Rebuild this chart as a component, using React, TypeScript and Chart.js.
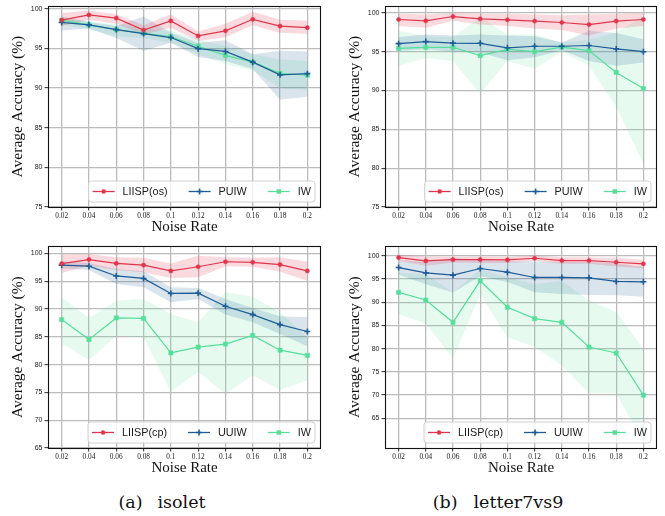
import React, { useEffect, useRef } from 'react';
import { Chart, registerables } from 'chart.js';

Chart.register(...registerables);

// ---------------- DATA ----------------
const noiseRates = ['0.02', '0.04', '0.06', '0.08', '0.1', '0.12', '0.14', '0.16', '0.18', '0.2'];

const topYTicks = [75, 80, 85, 90, 95, 100];
const bottomYTicks = [65, 70, 75, 80, 85, 90, 95, 100];

// (a) isolet, top: LIISP(os) / PUIW / IW
const isoletOsLiisp = [98.55, 99.2, 98.8, 97.3, 98.45, 96.55, 97.2, 98.65, 97.8, 97.6];
const isoletOsLiispHi = [99.45, 99.75, 99.3, 97.9, 99.3, 97.1, 98.1, 99.6, 98.6, 98.5];
const isoletOsLiispLo = [97.8, 98.6, 98.1, 96.75, 97.6, 95.9, 96.4, 97.9, 96.95, 96.8];
const isoletOsPuiw = [98.25, 97.95, 97.35, 96.85, 96.35, 94.95, 94.6, 93.25, 91.65, 91.8];
const isoletOsPuiwHi = [99.0, 98.3, 97.8, 99.0, 97.0, 95.7, 96.0, 94.25, 94.7, 94.6];
const isoletOsPuiwLo = [97.25, 97.5, 96.3, 94.7, 95.7, 93.9, 93.4, 92.4, 88.5, 88.9];
const isoletOsIw = [98.55, 97.95, 97.35, 96.9, 96.45, 95.25, 94.1, 93.25, 91.85, 91.6];
const isoletOsIwHi = [98.8, 98.4, 98.0, 97.5, 97.2, 96.1, 95.3, 94.25, 93.6, 93.4];
const isoletOsIwLo = [98.0, 97.4, 96.5, 96.25, 95.7, 94.25, 93.0, 92.2, 90.0, 89.75];

// (b) letter7vs9, top: LIISP(os) / PUIW / IW
const letterOsLiisp = [99.15, 98.98, 99.53, 99.23, 99.1, 98.94, 98.76, 98.5, 98.94, 99.15];
const letterOsLiispHi = [99.9, 99.8, 100.0, 99.9, 99.9, 99.8, 99.7, 99.8, 99.9, 100.0];
const letterOsLiispLo = [98.3, 98.1, 99.0, 98.5, 98.3, 98.0, 97.8, 97.1, 98.0, 98.3];
const letterOsPuiw = [96.04, 96.3, 96.1, 96.08, 95.5, 95.7, 95.7, 95.8, 95.36, 95.0];
const letterOsPuiwHi = [96.9, 97.2, 97.1, 97.2, 97.1, 97.0, 96.2, 97.7, 97.4, 96.6];
const letterOsPuiwLo = [95.1, 95.3, 95.0, 94.9, 93.9, 94.3, 95.2, 93.8, 93.2, 93.6];
const letterOsIw = [95.44, 95.57, 95.57, 94.5, 95.3, 95.0, 95.6, 95.14, 92.33, 90.25];
const letterOsIwHi = [97.7, 97.0, 96.9, 99.4, 97.2, 97.2, 96.2, 96.5, 97.5, 99.6];
const letterOsIwLo = [93.2, 94.2, 93.8, 89.6, 93.8, 92.8, 95.0, 93.2, 87.9, 80.6];

// (a) isolet, bottom: LIISP(cp) / UUIW / IW
const isoletCpLiisp = [98.15, 98.9, 98.2, 97.9, 96.85, 97.6, 98.5, 98.4, 98.0, 96.85];
const isoletCpLiispHi = [99.8, 99.9, 99.3, 99.2, 98.2, 99.6, 99.3, 99.2, 99.3, 98.5];
const isoletCpLiispLo = [96.5, 97.8, 97.0, 96.6, 95.6, 95.7, 97.7, 97.6, 96.7, 95.1];
const isoletCpUuiw = [97.9, 97.7, 95.95, 95.5, 92.8, 92.86, 90.5, 89.0, 87.2, 85.95];
const isoletCpUuiwHi = [98.6, 98.3, 97.2, 96.8, 93.9, 93.8, 91.8, 90.2, 88.7, 88.5];
const isoletCpUuiwLo = [97.3, 97.0, 94.5, 93.9, 91.2, 91.8, 89.0, 87.6, 85.5, 83.3];
const isoletCpIw = [88.1, 84.5, 88.4, 88.33, 82.1, 83.15, 83.7, 85.24, 82.6, 81.65];
const isoletCpIwHi = [92.1, 88.4, 91.5, 91.8, 89.1, 87.6, 93.0, 92.2, 89.4, 84.9];
const isoletCpIwLo = [83.75, 80.8, 85.2, 84.9, 75.1, 78.7, 74.7, 78.1, 75.5, 77.2];

// (b) letter7vs9, bottom: LIISP(cp) / UUIW / IW
const letterCpLiisp = [99.64, 98.93, 99.2, 99.2, 99.14, 99.5, 99.0, 99.0, 98.64, 98.29];
const letterCpLiispHi = [100.3, 99.9, 99.8, 99.9, 99.8, 100.1, 99.7, 99.7, 99.6, 99.2];
const letterCpLiispLo = [98.9, 97.9, 98.6, 98.5, 98.5, 98.9, 98.3, 98.3, 97.7, 97.3];
const letterCpUuiw = [97.5, 96.36, 95.86, 97.29, 96.5, 95.36, 95.36, 95.29, 94.5, 94.43];
const letterCpUuiwHi = [99.1, 98.8, 99.6, 99.2, 98.9, 98.8, 98.7, 98.7, 98.4, 97.6];
const letterCpUuiwLo = [96.0, 93.9, 92.1, 95.6, 94.4, 92.2, 91.8, 91.6, 91.5, 91.2];
const letterCpIw = [92.14, 90.5, 85.7, 94.64, 88.93, 86.5, 85.7, 80.36, 79.07, 70.0];
const letterCpIwHi = [96.3, 96.1, 92.1, 97.1, 95.4, 93.9, 94.6, 90.4, 87.9, 80.0];
const letterCpIwLo = [87.5, 85.4, 77.9, 91.8, 82.5, 80.4, 76.4, 70.4, 70.4, 59.6];

// ---------------- STYLE ----------------
const RED = '#E3344B';
const BLUE = '#1E5C96';
const GREEN = '#55E09A';
const RED_BAND = 'rgba(227,52,75,0.18)';
const BLUE_BAND = 'rgba(30,92,150,0.17)';
const GREEN_BAND = 'rgba(85,224,154,0.15)';
const GRID = '#bcbcbc';

type Series = {
  label: string;
  color: string;
  band: string;
  marker: 'circle' | 'cross' | 'rect';
  mean: number[];
  hi: number[];
  lo: number[];
};

type PanelCfg = {
  left: number;
  top: number;
  width: number;
  height: number;
  yAxisW: number;
  padRight: number;
  padTop: number;
  xAxisH: number;
  yMin: number;
  yMax: number;
  yTicks: number[];
  yTitlePad: number;
  series: Series[];
};

const mk = (label: string, color: string, band: string, marker: Series['marker'], mean: number[], hi: number[], lo: number[]): Series => ({
  label, color, band, marker, mean, hi, lo,
});

const panels: PanelCfg[] = [
  {
    left: 0, top: 0, width: 330, height: 240, yAxisW: 48, padRight: 9, padTop: 5, xAxisH: 33,
    yMin: 75, yMax: 100.3, yTicks: topYTicks, yTitlePad: 8.7,
    series: [
      mk('LIISP(os)', RED, RED_BAND, 'circle', isoletOsLiisp, isoletOsLiispHi, isoletOsLiispLo),
      mk('PUIW', BLUE, BLUE_BAND, 'cross', isoletOsPuiw, isoletOsPuiwHi, isoletOsPuiwLo),
      mk('IW', GREEN, GREEN_BAND, 'rect', isoletOsIw, isoletOsIwHi, isoletOsIwLo),
    ],
  },
  {
    left: 330, top: 0, width: 335, height: 240, yAxisW: 55, padRight: 8, padTop: 5, xAxisH: 33,
    yMin: 75, yMax: 100.86, yTicks: topYTicks, yTitlePad: 15.7,
    series: [
      mk('LIISP(os)', RED, RED_BAND, 'circle', letterOsLiisp, letterOsLiispHi, letterOsLiispLo),
      mk('PUIW', BLUE, BLUE_BAND, 'cross', letterOsPuiw, letterOsPuiwHi, letterOsPuiwLo),
      mk('IW', GREEN, GREEN_BAND, 'rect', letterOsIw, letterOsIwHi, letterOsIwLo),
    ],
  },
  {
    left: 0, top: 240, width: 330, height: 241, yAxisW: 48, padRight: 9, padTop: 5, xAxisH: 33,
    yMin: 65, yMax: 101.3, yTicks: bottomYTicks, yTitlePad: 8.7,
    series: [
      mk('LIISP(cp)', RED, RED_BAND, 'circle', isoletCpLiisp, isoletCpLiispHi, isoletCpLiispLo),
      mk('UUIW', BLUE, BLUE_BAND, 'cross', isoletCpUuiw, isoletCpUuiwHi, isoletCpUuiwLo),
      mk('IW', GREEN, GREEN_BAND, 'rect', isoletCpIw, isoletCpIwHi, isoletCpIwLo),
    ],
  },
  {
    left: 330, top: 240, width: 335, height: 241, yAxisW: 55, padRight: 8, padTop: 5, xAxisH: 33,
    yMin: 58.6, yMax: 102.1, yTicks: bottomYTicks, yTitlePad: 15.7,
    series: [
      mk('LIISP(cp)', RED, RED_BAND, 'circle', letterCpLiisp, letterCpLiispHi, letterCpLiispLo),
      mk('UUIW', BLUE, BLUE_BAND, 'cross', letterCpUuiw, letterCpUuiwHi, letterCpUuiwLo),
      mk('IW', GREEN, GREEN_BAND, 'rect', letterCpIw, letterCpIwHi, letterCpIwLo),
    ],
  },
];

function drawMarker(ctx: CanvasRenderingContext2D, marker: Series['marker'], x: number, y: number, color: string) {
  ctx.save();
  ctx.fillStyle = color;
  ctx.strokeStyle = color;
  if (marker === 'circle') {
    ctx.beginPath();
    ctx.arc(x, y, 2.2, 0, Math.PI * 2);
    ctx.fill();
  } else if (marker === 'rect') {
    ctx.fillRect(x - 2.2, y - 2.2, 4.4, 4.4);
  } else {
    ctx.lineWidth = 1.6;
    ctx.beginPath();
    ctx.moveTo(x - 3, y);
    ctx.lineTo(x + 3, y);
    ctx.moveTo(x, y - 3);
    ctx.lineTo(x, y + 3);
    ctx.stroke();
  }
  ctx.restore();
}

function Panel({ cfg }: { cfg: PanelCfg }) {
  const ref = useRef<HTMLCanvasElement | null>(null);

  useEffect(() => {
    const canvas = ref.current;
    if (!canvas) return;

    const datasets: any[] = [];
    cfg.series.forEach((s) => {
      datasets.push({
        label: s.label + ' lo',
        data: s.lo,
        borderColor: 'transparent',
        backgroundColor: 'transparent',
        borderWidth: 0,
        pointRadius: 0,
        pointHoverRadius: 0,
        fill: false,
        order: 10,
      });
      datasets.push({
        label: s.label + ' hi',
        data: s.hi,
        borderColor: 'transparent',
        backgroundColor: s.band,
        borderWidth: 0,
        pointRadius: 0,
        pointHoverRadius: 0,
        fill: '-1',
        order: 10,
      });
    });
    cfg.series.forEach((s) => {
      datasets.push({
        label: s.label,
        data: s.mean,
        borderColor: s.color,
        backgroundColor: s.color,
        pointBackgroundColor: s.color,
        pointBorderColor: s.color,
        borderWidth: 1.2,
        pointStyle: s.marker === 'circle' ? 'circle' : s.marker === 'rect' ? 'rect' : 'cross',
        pointRadius: s.marker === 'circle' ? 2.1 : s.marker === 'rect' ? 3 : 3,
        pointBorderWidth: s.marker === 'cross' ? 1.6 : 0.5,
        fill: false,
        tension: 0,
        order: 0,
      });
    });

    const framePlugin = {
      id: 'frame',
      afterDatasetsDraw(chart: any) {
        const { ctx, chartArea } = chart;
        ctx.save();
        ctx.strokeStyle = '#111';
        ctx.lineWidth = 1.1;
        ctx.strokeRect(
          Math.round(chartArea.left) + 0.5,
          Math.round(chartArea.top) + 0.5,
          Math.round(chartArea.right - chartArea.left) - 1,
          Math.round(chartArea.bottom - chartArea.top)
        );
        ctx.restore();
      },
    };

    const legendPlugin = {
      id: 'innerLegend',
      afterDraw(chart: any) {
        const { ctx, chartArea } = chart;
        ctx.save();
        ctx.font = '10.8px "Liberation Sans", Arial, sans-serif';
        const pad = 4, handle = 22, gap = 8, colGap = 21, h = 21;
        const widths = cfg.series.map((s) => ctx.measureText(s.label).width);
        const total = pad * 2 + widths.reduce((a, w) => a + handle + gap + w, 0) + colGap * (cfg.series.length - 1);
        const right = chartArea.right - 6;
        const bottom = chartArea.bottom - 5;
        const x0 = right - total;
        const y0 = bottom - h;
        const r = 3;
        ctx.beginPath();
        ctx.moveTo(x0 + r, y0);
        ctx.lineTo(x0 + total - r, y0);
        ctx.quadraticCurveTo(x0 + total, y0, x0 + total, y0 + r);
        ctx.lineTo(x0 + total, y0 + h - r);
        ctx.quadraticCurveTo(x0 + total, y0 + h, x0 + total - r, y0 + h);
        ctx.lineTo(x0 + r, y0 + h);
        ctx.quadraticCurveTo(x0, y0 + h, x0, y0 + h - r);
        ctx.lineTo(x0, y0 + r);
        ctx.quadraticCurveTo(x0, y0, x0 + r, y0);
        ctx.closePath();
        ctx.fillStyle = 'rgba(255,255,255,0.82)';
        ctx.fill();
        ctx.strokeStyle = '#d2d2d2';
        ctx.lineWidth = 1;
        ctx.stroke();

        const cy = y0 + h / 2;
        let x = x0 + pad;
        cfg.series.forEach((s, i) => {
          ctx.strokeStyle = s.color;
          ctx.lineWidth = 1.3;
          ctx.beginPath();
          ctx.moveTo(x, cy);
          ctx.lineTo(x + handle, cy);
          ctx.stroke();
          drawMarker(ctx, s.marker, x + handle / 2, cy, s.color);
          ctx.fillStyle = '#1a1a1a';
          ctx.textBaseline = 'middle';
          ctx.textAlign = 'left';
          ctx.fillText(s.label, x + handle + gap, cy + 0.5);
          x += handle + gap + widths[i] + colGap;
        });
        ctx.restore();
      },
    };

    const chart = new Chart(canvas, {
      type: 'line',
      data: { labels: noiseRates, datasets },
      options: {
        animation: false,
        responsive: false,
        maintainAspectRatio: false,
        devicePixelRatio: 1,
        layout: { padding: { left: 0, right: cfg.padRight, top: cfg.padTop, bottom: 0 } },
        plugins: {
          legend: { display: false },
          tooltip: { enabled: false },
          filler: { propagate: false },
        },
        scales: {
          x: {
            type: 'category',
            offset: true,
            grid: {
              color: GRID,
              lineWidth: 1.3,
              offset: false,
              drawTicks: true,
              tickColor: '#111',
              tickLength: 3.5,
              tickWidth: 0.9,
            },
            border: { display: false },
            ticks: {
              font: { family: '"Liberation Serif", "Times New Roman", serif', size: 7.3 },
              color: '#222',
              padding: 1,
              maxRotation: 0,
              autoSkip: false,
            },
            title: {
              display: true,
              text: 'Noise Rate',
              font: { family: '"Liberation Serif", "Times New Roman", serif', size: 15 },
              color: '#111',
              padding: { top: 0, bottom: 3.5 },
            },
            afterFit: (s: any) => {
              s.height = cfg.xAxisH;
            },
          },
          y: {
            type: 'linear',
            min: cfg.yMin,
            max: cfg.yMax,
            afterBuildTicks: (s: any) => {
              s.ticks = cfg.yTicks.map((v) => ({ value: v }));
            },
            afterFit: (s: any) => {
              s.width = cfg.yAxisW;
            },
            grid: {
              color: GRID,
              lineWidth: 1.3,
              drawTicks: true,
              tickColor: '#111',
              tickLength: 3.5,
              tickWidth: 0.9,
            },
            border: { display: false },
            ticks: {
              font: { family: '"Liberation Sans", Arial, sans-serif', size: 7 },
              color: '#222',
              padding: 2,
              autoSkip: false,
            },
            title: {
              display: true,
              text: 'Average Accuracy (%)',
              font: { family: '"Liberation Serif", "Times New Roman", serif', size: 15.5 },
              color: '#111',
              padding: { top: cfg.yTitlePad, bottom: 0 },
            },
          },
        },
      } as any,
      plugins: [framePlugin, legendPlugin],
    });

    return () => {
      chart.destroy();
    };
  }, [cfg]);

  return (
    <canvas
      ref={ref}
      width={cfg.width}
      height={cfg.height}
      style={{ position: 'absolute', left: cfg.left, top: cfg.top, width: cfg.width, height: cfg.height }}
    />
  );
}

const captionStyle: React.CSSProperties = {
  position: 'absolute',
  top: 490,
  width: 300,
  textAlign: 'center',
  fontFamily: '"DejaVu Serif", "Liberation Serif", serif',
  fontSize: 17.5,
  lineHeight: '24px',
  color: '#111',
  whiteSpace: 'nowrap',
};

export default function App() {
  return (
    <div style={{ position: 'absolute', left: 0, top: 0, width: 665, height: 516, background: '#fff', overflow: 'hidden' }}>
      {panels.map((p, i) => (
        <Panel key={i} cfg={p} />
      ))}
      <div style={{ ...captionStyle, left: 162 - 150 }}>
        <span style={{ marginRight: 15 }}>(a)</span>
        <span>isolet</span>
      </div>
      <div style={{ ...captionStyle, left: 498 - 150 }}>
        <span style={{ marginRight: 16 }}>(b)</span>
        <span>letter7vs9</span>
      </div>
    </div>
  );
}
